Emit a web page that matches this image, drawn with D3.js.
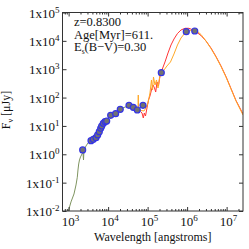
<!DOCTYPE html>
<html>
<head>
<meta charset="utf-8">
<script src="https://cdn.jsdelivr.net/npm/d3@7"></script>
<style>
  body { margin: 0; background: #fff; }
  text { font-family: "Liberation Serif", "DejaVu Serif", serif; fill: #111; }
</style>
</head>
<body>
<div id="chart"></div>
<script>
let width = 249;
let height = 249;
let margin = ({top: 12.5, right: 6, bottom: 38, left: 62.5});

// observed photometry
let obsWave = [2270, 3690, 4220, 4930, 5450, 5980, 6490, 6880, 7550, 8340, 9200,
    11600, 15500, 20300, 33800, 43400, 54800, 76400, 222000, 953000, 1560000];
let obsFlux = [1.42, 3.02, 3.38, 3.85, 4.80, 6.26, 8.26, 9.95, 12.4, 14.1, 14.9,
    23.7, 27.0, 38.6, 53.4, 45.4, 36.5, 53.4, 753, 21000, 22300];

// stellar model (green)
let greenWave = [982, 1148, 1368, 1538, 1660, 1726, 1799, 1884, 2000, 2183, 2312, 2382, 2449,
    2754, 3097, 3690, 4385, 5224, 5875, 6607, 7413, 8337, 9376, 10520, 11830, 14090,
    16790, 20000, 25230, 31840, 37930, 45190, 50820];
let greenFlux = [0.0098, 0.0209, 0.0399, 0.0828, 0.155, 0.279, 0.455, 0.630, 0.804, 1.03, 1.11, 0.63, 1.42,
    1.96, 2.51, 3.07, 3.61, 4.80, 6.64, 9.18, 12.2, 14.4, 16.2, 20.7, 24.3, 27.5,
    33.7, 39.5, 44.7, 50.5, 44.7, 39.5, 36.5];

// dust model (orange)
let orangeWave = [53800, 57000, 58000, 59100, 67900, 80900, 91000, 102300, 114800, 125300, 133000,
    140900, 153800, 167900, 183300, 200000, 222000, 260000, 309000, 379000, 465000, 570000,
    699000, 883000, 1117000, 1409000, 1778000, 2245000, 3006000, 4018000, 5383000, 7211000,
    9638000, 12910000, 17290000, 26000000];
let orangeFlux = [35.0, 35.0, 123, 36.5, 35.0, 33.7, 43.0, 64.4, 145, 417, 185,
    532, 278, 417, 218, 490, 736, 938, 1300, 1799, 3443, 7145,
    12620, 18930, 22280, 24150, 22280, 16750, 9886, 5383, 2698, 1247,
    532, 201, 75.7, 24.3];

// dust model (red)
let redWave = [66100, 72100, 77800, 82500, 88400, 96400, 105200, 114800, 125300, 136800, 149300,
    160200, 173000, 188500, 205600, 231000, 275400, 328300, 390800, 465600, 570200, 699800,
    883100, 1117000, 1409000, 1778000, 2245000, 3006000, 4018000, 5383000, 7211000, 9638000,
    12910000, 17290000, 26000000];
let redFlux = [32.3, 28.6, 19.1, 28.6, 22.4, 43.0, 82.2, 114, 185, 278, 218,
    157, 354, 256, 577, 938, 1799, 3733, 7145, 11640, 18190, 24150,
    27730, 27730, 24150, 19720, 15450, 9886, 5600, 2812, 1300, 553,
    209, 78.9, 26.4];

let xTickExps = [3, 4, 5, 6, 7];
let yTickExps = [-2, -1, 0, 1, 2, 3, 4, 5];
let infoLines = ["z=0.8300", "Age[Myr]=611.", "E_s(B\u2212V)=0.30"];

let svg = d3.select("#chart")
    .append("svg")
    .attr("width", width)
    .attr("height", height);

svg.append("rect").attr("width", width).attr("height", height).attr("fill", "#fff");

let xScale = d3.scaleLog()
    .domain([700, 2.6e7])
    .range([margin.left, width - margin.right]);

let yScale = d3.scaleLog()
    .domain([0.01, 1e5])
    .range([height - margin.bottom, margin.top]);

let x0 = xScale.range()[0], x1 = xScale.range()[1];
let y0 = yScale.range()[0], y1 = yScale.range()[1];

svg.append("clipPath").attr("id", "clip")
    .append("rect")
    .attr("x", x0).attr("y", y1)
    .attr("width", x1 - x0).attr("height", y0 - y1);

let plot = svg.append("g").attr("clip-path", "url(#clip)");

let line = d3.line()
    .x(function(d) { return xScale(d[0]); })
    .y(function(d) { return yScale(d[1]); });

function drawModel(wave, flux, color) {
    plot.append("path")
        .datum(d3.zip(wave, flux))
        .attr("fill", "none")
        .attr("stroke", color)
        .attr("stroke-width", 1)
        .attr("d", line);
}

drawModel(greenWave, greenFlux, "#7f9460");
drawModel(redWave, redFlux, "#ff3535");
drawModel(orangeWave, orangeFlux, "#ffa726");

plot.selectAll(".obs")
    .data(d3.zip(obsWave, obsFlux))
    .enter()
    .append("circle")
    .attr("class", "obs")
    .attr("cx", function(d) { return xScale(d[0]); })
    .attr("cy", function(d) { return yScale(d[1]); })
    .attr("r", 3)
    .attr("fill", "#727272")
    .attr("stroke", "#3434e6")
    .attr("stroke-width", 1.2);

// minor x ticks 2..9 per decade
let xMinor = [];
for (let e = 2; e <= 7; e++) {
    for (let m = 2; m <= 9; m++) {
        let v = m * Math.pow(10, e);
        if (v > 700 && v < 2.6e7) xMinor.push(v);
    }
}
let xMajor = xTickExps.map(function(e) { return Math.pow(10, e); });
let yMajor = yTickExps.map(function(e) { return Math.pow(10, e); });

let axisColor = "#333";

function styleAxis(g) {
    g.select(".domain").remove();
    g.selectAll("line").attr("stroke", axisColor);
}

svg.append("g").attr("transform", "translate(0," + y0 + ")")
    .call(d3.axisBottom(xScale).tickValues(xMajor).tickSize(-4).tickFormat(""))
    .call(styleAxis);
svg.append("g").attr("transform", "translate(0," + y0 + ")")
    .call(d3.axisBottom(xScale).tickValues(xMinor).tickSize(-2).tickFormat(""))
    .call(styleAxis);
svg.append("g").attr("transform", "translate(0," + y1 + ")")
    .call(d3.axisTop(xScale).tickValues(xMajor).tickSize(-4).tickFormat(""))
    .call(styleAxis);
svg.append("g").attr("transform", "translate(0," + y1 + ")")
    .call(d3.axisTop(xScale).tickValues(xMinor).tickSize(-2).tickFormat(""))
    .call(styleAxis);
svg.append("g").attr("transform", "translate(" + x0 + ",0)")
    .call(d3.axisLeft(yScale).tickValues(yMajor).tickSize(-4).tickFormat(""))
    .call(styleAxis);
svg.append("g").attr("transform", "translate(" + x1 + ",0)")
    .call(d3.axisRight(yScale).tickValues(yMajor).tickSize(-4).tickFormat(""))
    .call(styleAxis);

// frame
svg.append("rect")
    .attr("x", x0).attr("y", y1)
    .attr("width", x1 - x0).attr("height", y0 - y1)
    .attr("fill", "none")
    .attr("stroke", axisColor)
    .attr("stroke-width", 1);

// y tick labels
yTickExps.forEach(function(e) {
    let t = svg.append("text")
        .attr("x", x0 - 3)
        .attr("y", yScale(Math.pow(10, e)) + 5)
        .attr("text-anchor", "end")
        .style("font-size", "13px");
    t.append("tspan").text("1x10");
    t.append("tspan").attr("dy", -5).style("font-size", "9px").text(e);
});

// x tick labels
xTickExps.forEach(function(e) {
    let t = svg.append("text")
        .attr("x", xScale(Math.pow(10, e)) + 2)
        .attr("y", y0 + 15)
        .attr("text-anchor", "middle")
        .style("font-size", "13px");
    t.append("tspan").text("10");
    t.append("tspan").attr("dy", -5).style("font-size", "9px").text(e);
});

// axis titles
svg.append("text")
    .attr("x", (x0 + x1) / 2)
    .attr("y", 241)
    .attr("text-anchor", "middle")
    .style("font-size", "12px")
    .text("Wavelength [angstroms]");

let yt = svg.append("text")
    .attr("transform", "translate(10," + 110 + ") rotate(-90)")
    .attr("text-anchor", "middle")
    .style("font-size", "12px");
yt.append("tspan").text("F");
yt.append("tspan").attr("dy", 3).style("font-size", "8px").text("\u03bd");
yt.append("tspan").attr("dy", -3).text(" [\u03bcJy]");

// info text
infoLines.forEach(function(s, i) {
    let t = svg.append("text")
        .attr("x", 74)
        .attr("y", 26 + i * 12.5)
        .style("font-size", "12.5px");
    if (s.indexOf("_") >= 0) {
        let parts = s.split("_");
        t.append("tspan").text(parts[0]);
        t.append("tspan").attr("dy", 2.5).style("font-size", "7.5px").text(parts[1][0]);
        t.append("tspan").attr("dy", -2.5).text(parts[1].slice(1));
    } else {
        t.text(s);
    }
});
</script>
</body>
</html>
